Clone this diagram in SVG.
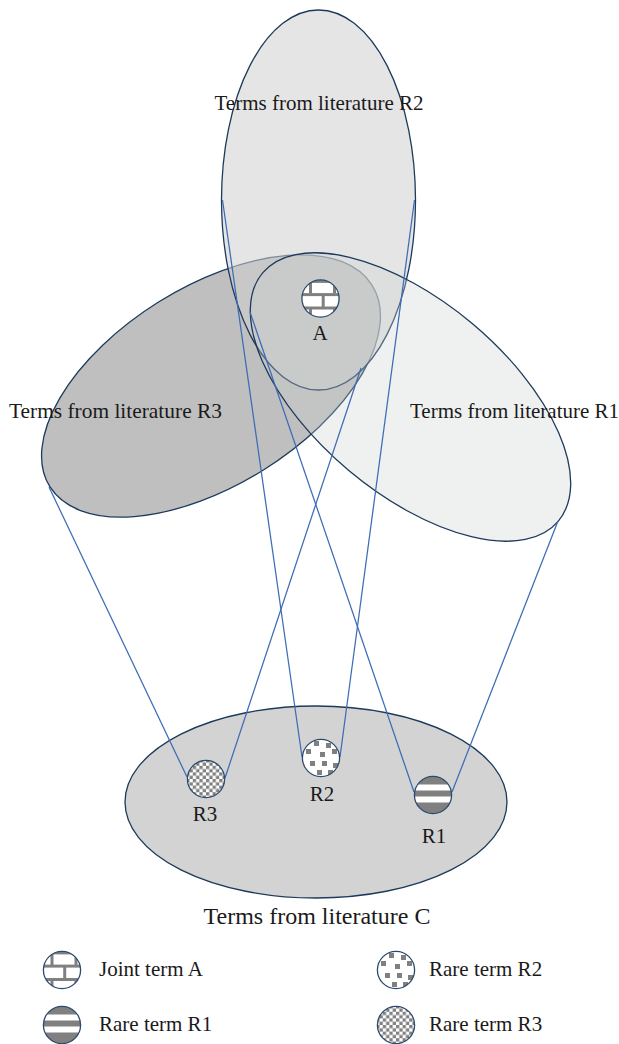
<svg xmlns="http://www.w3.org/2000/svg" width="619" height="1044" viewBox="0 0 619 1044">
<style>
.lbl{font-family:"Liberation Serif","Times New Roman",serif;font-size:21px;fill:#1a1a1a}
.ell{stroke:#1d3a5c;stroke-width:1.3}
.conn line{stroke:#3d6cb6;stroke-width:1.25}
.ring{fill:none;stroke:#2b4a6e;stroke-width:1.3}
.g{fill:#808080}
</style>
<defs>
<clipPath id="cc"><circle r="18.6"/></clipPath>
<pattern id="chk" width="6.6" height="6.6" patternUnits="userSpaceOnUse"><rect width="6.6" height="6.6" fill="#fff"/><rect width="3.3" height="3.3" fill="#808080"/><rect x="3.3" y="3.3" width="3.3" height="3.3" fill="#808080"/></pattern>
<g id="ico-a">
<circle r="18.6" fill="#fff"/>
<g clip-path="url(#cc)" class="g">
<rect x="-20" y="-19" width="40" height="3.4"/>
<rect x="-20" y="-5.4" width="40" height="3"/>
<rect x="-20" y="8" width="40" height="3"/>
<rect x="-11.5" y="-16" width="3" height="11"/>
<rect x="12.5" y="-16" width="3" height="11"/>
<rect x="1.2" y="-3" width="3" height="11.5"/>
<rect x="-11.5" y="10.5" width="3" height="9"/>
<rect x="12.5" y="10.5" width="3" height="9"/>
</g>
<circle r="18.6" class="ring"/>
</g>
<g id="ico-r1">
<circle r="18.6" fill="#fff"/>
<g clip-path="url(#cc)" class="g">
<rect x="-20" y="-20" width="40" height="9.5"/>
<rect x="-20" y="-4.5" width="40" height="6"/>
<rect x="-20" y="7.5" width="40" height="12.5"/>
</g>
<circle r="18.6" class="ring"/>
</g>
<g id="ico-r2">
<circle r="18.6" fill="#fff"/>
<g clip-path="url(#cc)" class="g">
<rect x="-7" y="-17" width="5" height="5"/>
<rect x="5" y="-15" width="5" height="5"/>
<rect x="-15" y="-9" width="5" height="5"/>
<rect x="-1" y="-6" width="5" height="5"/>
<rect x="11" y="-9" width="5" height="5"/>
<rect x="-11" y="3" width="5" height="5"/>
<rect x="1" y="3" width="5" height="5"/>
<rect x="12" y="5" width="5" height="5"/>
<rect x="-4" y="12" width="5" height="5"/>
<rect x="7" y="12" width="5" height="5"/>
</g>
<circle r="18.6" class="ring"/>
</g>
<g id="ico-r3">
<circle r="18.6" fill="url(#chk)"/>
<circle r="18.6" class="ring"/>
</g>
</defs>
<rect width="619" height="1044" fill="#fff"/>
<g id="lit-c">
<ellipse cx="316" cy="802" rx="191" ry="96" fill="#d3d3d3" class="ell"/>
<text class="lbl" x="317" y="924" text-anchor="middle" style="font-size:24px">Terms from literature C</text>
</g>
<g id="lit-r3">
<ellipse cx="211" cy="386" rx="190" ry="99" transform="rotate(-32 211 386)" fill="#bfbfbf" class="ell"/>
</g>
<g id="lit-r2">
<ellipse cx="318.5" cy="200" rx="97" ry="190" fill="#cfcfcf" fill-opacity="0.547" class="ell"/>
</g>
<g id="lit-r1">
<ellipse cx="410.5" cy="397" rx="193" ry="96" transform="rotate(40 410.5 397)" fill="#cbcece" fill-opacity="0.31" class="ell"/>
</g>
<g id="labels">
<text class="lbl" x="319" y="110" text-anchor="middle">Terms from literature R2</text>
<text class="lbl" x="9" y="418" style="font-size:21.4px">Terms from literature R3</text>
<text class="lbl" x="410" y="418">Terms from literature R1</text>
</g>
<g id="connectors" class="conn">
<line x1="49" y1="487" x2="187" y2="777"/>
<line x1="361" y1="368" x2="225" y2="778"/>
<line x1="222.5" y1="200" x2="302" y2="757"/>
<line x1="414.5" y1="200" x2="340" y2="757"/>
<line x1="250" y1="312" x2="414" y2="792"/>
<line x1="558" y1="521" x2="452" y2="792"/>
</g>
<g id="term-a">
<use href="#ico-a" x="320.5" y="298.5"/>
<text class="lbl" x="320" y="340" text-anchor="middle">A</text>
</g>
<g id="term-r3">
<use href="#ico-r3" x="206" y="779"/>
<text class="lbl" x="205" y="821" text-anchor="middle">R3</text>
</g>
<g id="term-r2">
<use href="#ico-r2" x="321" y="758"/>
<text class="lbl" x="322" y="801" text-anchor="middle">R2</text>
</g>
<g id="term-r1">
<use href="#ico-r1" x="433" y="795"/>
<text class="lbl" x="434" y="843" text-anchor="middle">R1</text>
</g>
<g id="legend">
<use href="#ico-a" x="62" y="970"/>
<text class="lbl" x="99" y="976">Joint term A</text>
<use href="#ico-r1" x="62" y="1025"/>
<text class="lbl" x="99" y="1031">Rare term R1</text>
<use href="#ico-r2" x="396" y="970"/>
<text class="lbl" x="429" y="976">Rare term R2</text>
<use href="#ico-r3" x="396" y="1025"/>
<text class="lbl" x="429" y="1031">Rare term R3</text>
</g>
</svg>
